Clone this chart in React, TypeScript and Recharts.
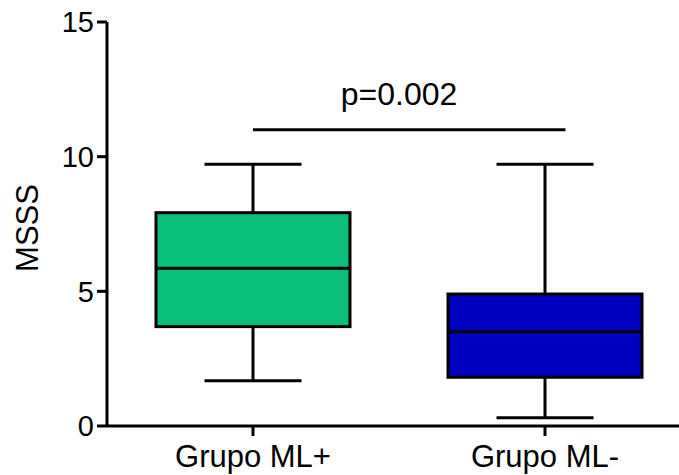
import React from "react";
import {
  ComposedChart,
  Bar,
  Line,
  XAxis,
  YAxis,
  ReferenceDot,
} from "recharts";

// Box plot summary per group (MSSS scores)
const groups = ["Grupo ML+", "Grupo ML-"];
const whiskerMin = [1.68, 0.31];
const quartile1 = [3.69, 1.81];
const medians = [5.86, 3.5];
const quartile3 = [7.92, 4.9];
const whiskerMax = [9.72, 9.72];
const boxColors = ["#09BF79", "#0000C0"];

// Significance bracket between the two groups (positions on the group index scale)
const bracketX = [0, 1.07];
const bracketLevel = 11;
const pLabel = "p=0.002";

const yTicks = [0, 5, 10, 15];

const FONT = '"Liberation Sans", Arial, Helvetica, sans-serif';

const data = groups.map((name, i) => ({
  name,
  min: whiskerMin[i],
  q1: quartile1[i],
  median: medians[i],
  q3: quartile3[i],
  max: whiskerMax[i],
  color: boxColors[i],
  range: [whiskerMin[i], whiskerMax[i]],
}));

const bracketPoints = bracketX.map((pos) => ({ pos, level: bracketLevel }));

// The bar covers min..max, so its own height gives the pixel scale
const BoxShape = (props: any) => {
  const { x, y, width, height, payload } = props;
  const unit = height / (payload.max - payload.min);
  const py = (v: number) => y + (payload.max - v) * unit;
  const cx = x + width / 2;
  const capHalf = width / 4;
  return (
    <g>
      <line x1={cx} x2={cx} y1={py(payload.max)} y2={py(payload.min)} stroke="#000" strokeWidth={3} />
      <line x1={cx - capHalf} x2={cx + capHalf} y1={py(payload.max)} y2={py(payload.max)} stroke="#000" strokeWidth={3} />
      <line x1={cx - capHalf} x2={cx + capHalf} y1={py(payload.min)} y2={py(payload.min)} stroke="#000" strokeWidth={3} />
      <rect
        x={x}
        y={py(payload.q3)}
        width={width}
        height={py(payload.q1) - py(payload.q3)}
        fill={payload.color}
        stroke="#000"
        strokeWidth={3}
      />
      <line x1={x} x2={x + width} y1={py(payload.median)} y2={py(payload.median)} stroke="#000" strokeWidth={3} />
    </g>
  );
};

const YLabel = ({ viewBox }: any) => {
  const cx = viewBox.x + 27;
  const cy = viewBox.y + viewBox.height / 2 + 4;
  return (
    <text
      x={cx}
      y={cy}
      transform={`rotate(-90, ${cx}, ${cy})`}
      textAnchor="middle"
      dominantBaseline="central"
      fontSize={31}
      fontFamily={FONT}
      fill="#000"
    >
      MSSS
    </text>
  );
};

export default function App() {
  return (
    <div style={{ position: "absolute", left: 0, top: 0, width: 679, height: 475, overflow: "hidden", background: "#fff" }}>
      <ComposedChart
        width={679}
        height={475}
        data={data}
        margin={{ top: 22, right: -12, bottom: 0, left: 0 }}
        barSize={194}
      >
        <XAxis
          dataKey="name"
          height={49}
          interval={0}
          tickSize={10}
          tickMargin={9}
          axisLine={{ stroke: "#000", strokeWidth: 3 }}
          tickLine={{ stroke: "#000", strokeWidth: 3 }}
          tick={{ fill: "#000", fontSize: 31, fontFamily: FONT }}
        />
        <XAxis xAxisId="num" dataKey="pos" type="number" domain={[-0.5, 1.5]} allowDataOverflow hide />
        <YAxis
          width={107}
          domain={[0, 15]}
          ticks={yTicks}
          interval={0}
          tickSize={10}
          tickMargin={3}
          axisLine={{ stroke: "#000", strokeWidth: 3 }}
          tickLine={{ stroke: "#000", strokeWidth: 3 }}
          tick={{ fill: "#000", fontSize: 29, fontFamily: FONT }}
          label={{ content: YLabel }}
        />
        <Bar dataKey="range" shape={BoxShape} isAnimationActive={false} />
        <Line
          xAxisId="num"
          data={bracketPoints}
          dataKey="level"
          stroke="#000"
          strokeWidth={3}
          dot={false}
          activeDot={false}
          isAnimationActive={false}
        />
        <ReferenceDot
          xAxisId="num"
          x={0.5}
          y={bracketLevel}
          r={0}
          stroke="none"
          fill="none"
          label={{
            value: pLabel,
            position: "top",
            offset: 25,
            fill: "#000",
            fontSize: 32,
            fontFamily: FONT,
          }}
        />
      </ComposedChart>
    </div>
  );
}
